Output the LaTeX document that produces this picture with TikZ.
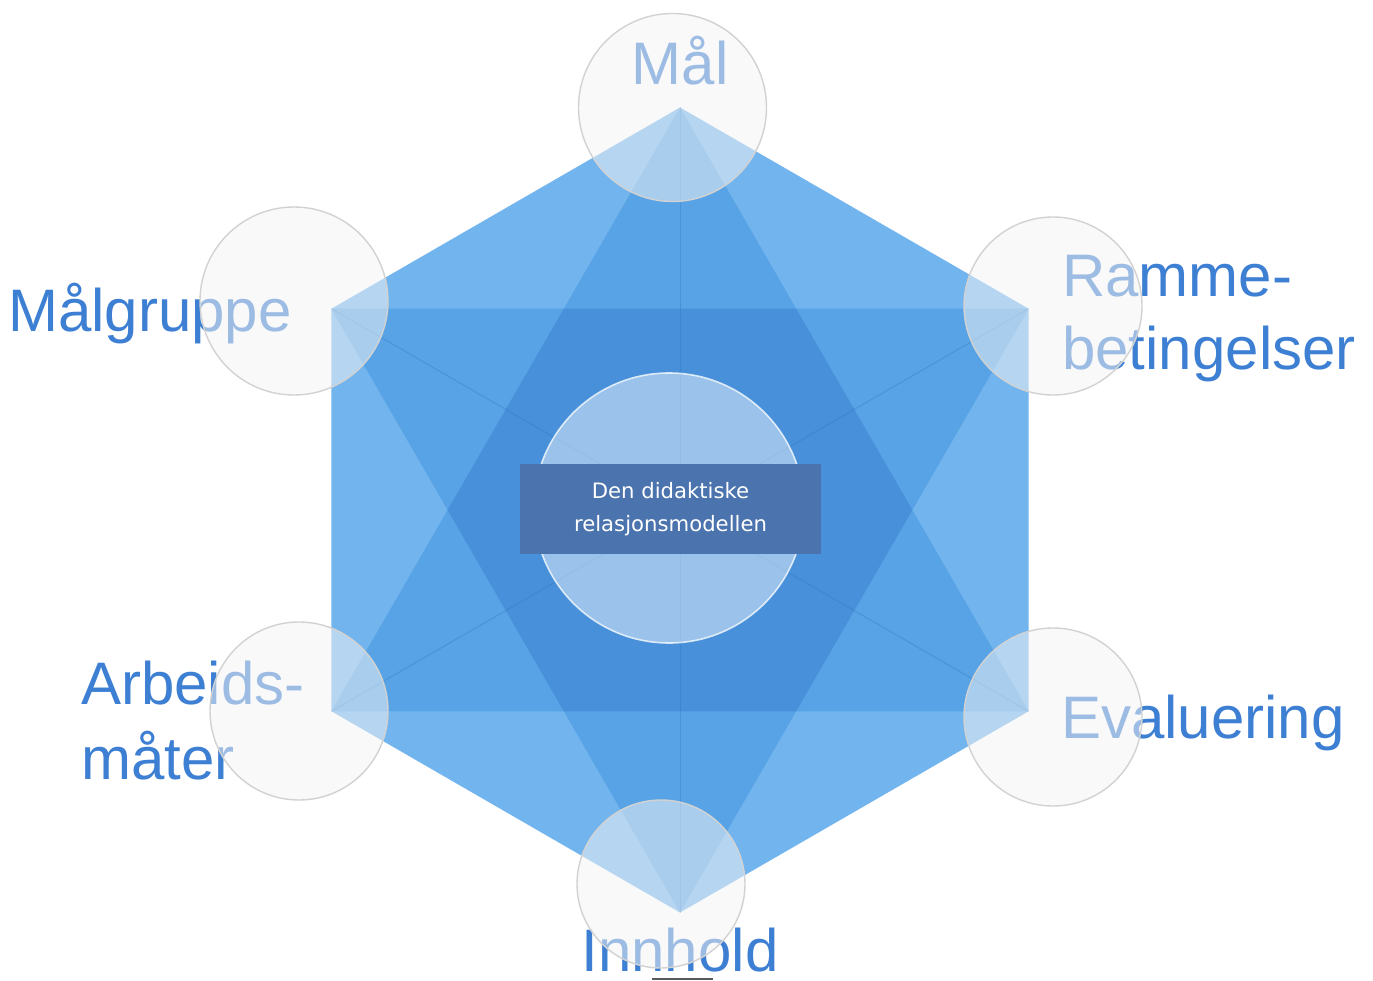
\documentclass[tikz,border=0pt]{standalone}
\usepackage{fontspec}
\setmainfont{Liberation Sans}
\newfontfamily\boxfont{DejaVu Sans}
\definecolor{hexcol}{HTML}{72B4EE}
\definecolor{tricol}{HTML}{58A3E6}
\definecolor{dblcol}{HTML}{4891DA}
\definecolor{spokecol}{HTML}{2F74BE}
\definecolor{lblcol}{HTML}{3D7FD3}
\definecolor{circfill}{HTML}{F4F4F4}
\definecolor{circline}{HTML}{D2D2D2}
\definecolor{boxcol}{HTML}{4B73AD}
\tikzset{
  lbl/.style={inner sep=0pt, text=lblcol, font=\fontsize{60}{74}\selectfont},
  vcirc/.style={circle, inner sep=0pt, fill=circfill, fill opacity=0.52, draw=circline, line width=1.4pt},
  ccirc/.style={circle, inner sep=0pt, fill=white, fill opacity=0.45, draw=white, draw opacity=0.75, line width=1.6pt},
  titlebox/.style={rectangle, inner sep=0pt, fill=boxcol, text=white, align=center,
    font=\boxfont\fontsize{21.2}{32.5}\selectfont},
  spoke/.style={draw=spokecol, draw opacity=0.35, line width=1pt}
}
\begin{document}
\begin{tikzpicture}[x=1pt,y=-1pt]
\useasboundingbox (0,0) rectangle (1373,981);
\fill[white] (0,0) rectangle (1373,981);
% hexagon vertices
\coordinate (T) at (680,107.5);
\coordinate (UR) at (1028.6,308.75);
\coordinate (LR) at (1028.6,711.25);
\coordinate (B) at (680,912.5);
\coordinate (LL) at (331.4,711.25);
\coordinate (UL) at (331.4,308.75);
\coordinate (O) at (680,510);
% hexagon and triangles
\fill[hexcol] (T)--(UR)--(LR)--(B)--(LL)--(UL)--cycle;
\fill[tricol] (T)--(LR)--(LL)--cycle;
\fill[tricol] (UL)--(UR)--(B)--cycle;
\begin{scope}
  \clip (T)--(LR)--(LL)--cycle;
  \fill[dblcol] (UL)--(UR)--(B)--cycle;
\end{scope}
% spokes
\foreach \v in {T,UR,LR,B,LL,UL} \draw[spoke] (\v)--(O);
% labels
\node[lbl, anchor=base] (mal) at (680,85) {Mål};
\node[lbl, anchor=base west] (malgruppe) at (8,332) {Målgruppe};
\node[lbl, anchor=north west, align=left, font=\fontsize{60}{73.5}\selectfont] (ramme) at (1062,255) {Ramme-\\betingelser};
\node[lbl, anchor=north west, align=left, font=\fontsize{60}{75}\selectfont] (arbeids) at (81,660.5) {Arbeids-\\måter};
\node[lbl, anchor=base west] (evaluering) at (1061,738) {Evaluering};
\node[lbl, anchor=base] (innhold) at (680,971) {Innhold};
% vertex circles
\node[vcirc, minimum size=188pt] (cmal) at (672.5,107.5) {};
\node[vcirc, minimum size=188pt] (cmalgruppe) at (294,301) {};
\node[vcirc, minimum size=178pt] (cramme) at (1053,306) {};
\node[vcirc, minimum size=178pt] (carbeids) at (299,711) {};
\node[vcirc, minimum size=178pt] (cevaluering) at (1053,717) {};
\node[vcirc, minimum size=168pt] (cinnhold) at (661,884) {};
% centre
\node[ccirc, minimum size=270pt] (centre) at (669,508) {};
\node[titlebox, minimum width=301pt, minimum height=90pt] (title) at (670.5,509) {Den didaktiske\\relasjonsmodellen};
% small line at bottom edge
\coordinate (ul1) at (652,979);
\coordinate (ul2) at (713,979);
\draw[draw=black!65, line width=1.5pt] (ul1)--(ul2);
\end{tikzpicture}
\end{document}
